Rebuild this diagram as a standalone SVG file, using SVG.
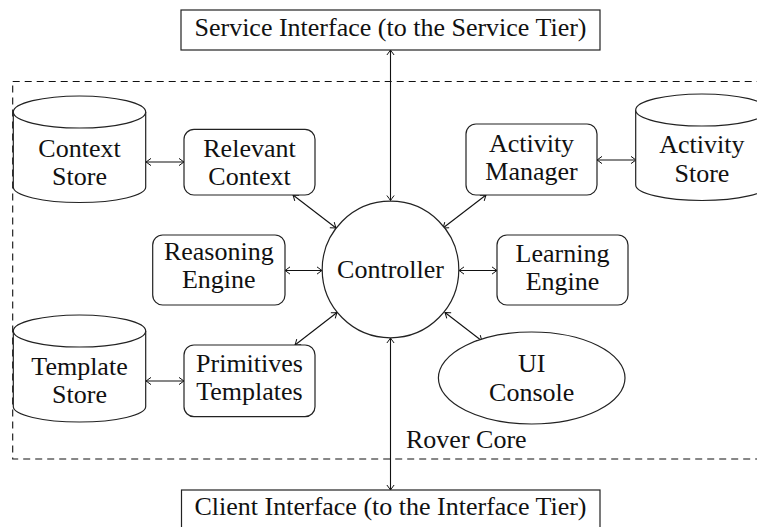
<svg xmlns="http://www.w3.org/2000/svg" width="757" height="527" viewBox="0 0 757 527">
  <style>
    text { font-family: "Liberation Serif", "Times New Roman", serif; font-size: 26px; fill: #111; text-anchor: middle; }
    .shape { fill: #fff; stroke: #222; stroke-width: 1.2; }
    .edge { fill: none; stroke: #111; stroke-width: 1.1; marker-start: url(#tip); marker-end: url(#tip); }
    .frame { fill: none; stroke: #111; stroke-width: 1.1; stroke-dasharray: 7 5; }
  </style>
  <defs>
    <marker id="tip" markerUnits="userSpaceOnUse" orient="auto-start-reverse" markerWidth="12" markerHeight="12" refX="0" refY="0" viewBox="-6 -6 12 12" overflow="visible">
      <path d="M -5 -3.6 Q -1.4 -0.9 0 0 Q -1.4 0.9 -5 3.6" fill="none" stroke="#111" stroke-width="1"/>
    </marker>
  </defs>

  <!-- Rover Core boundary -->
  <g id="rover-core">
    <rect class="frame" x="12.7" y="81.5" width="780" height="377.5"/>
    <text x="406" y="448" style="text-anchor:start">Rover Core</text>
  </g>

  <!-- connectors -->
  <g id="connectors">
    <line class="edge" x1="390.5" y1="50" x2="390.5" y2="200.5"/>
    <line class="edge" x1="390.5" y1="338" x2="390.5" y2="490"/>
    <line class="edge" x1="146" y1="162" x2="184" y2="162"/>
    <line class="edge" x1="293" y1="195" x2="336" y2="228"/>
    <line class="edge" x1="285" y1="270.5" x2="322" y2="270.5"/>
    <line class="edge" x1="486" y1="195" x2="443" y2="228"/>
    <line class="edge" x1="597" y1="160" x2="636" y2="160"/>
    <line class="edge" x1="459" y1="270.5" x2="497" y2="270.5"/>
    <line class="edge" x1="295" y1="345" x2="337" y2="312.5"/>
    <line class="edge" x1="146" y1="381" x2="184" y2="381"/>
    <line class="edge" x1="445" y1="312.5" x2="482" y2="341"/>
  </g>

  <g id="service-interface">
    <rect class="shape" x="181" y="10" width="419" height="40"/>
    <text x="390.5" y="36">Service Interface (to the Service Tier)</text>
  </g>

  <g id="client-interface">
    <rect class="shape" x="181.5" y="490" width="418.5" height="50"/>
    <text x="390.5" y="515">Client Interface (to the Interface Tier)</text>
  </g>

  <g id="controller">
    <circle class="shape" cx="390.5" cy="269.5" r="68.3"/>
    <text x="390.5" y="277.5">Controller</text>
  </g>

  <g id="context-store">
    <path class="shape" d="M 13.3 112 V 187 A 66.2 15.5 0 0 0 145.7 187 V 112"/>
    <ellipse class="shape" cx="79.5" cy="112" rx="66.2" ry="16"/>
    <text x="79.5" y="157">Context</text>
    <text x="79.5" y="185">Store</text>
  </g>

  <g id="relevant-context">
    <rect class="shape" x="184" y="129.3" width="131" height="65.7" rx="10"/>
    <text x="249.5" y="157">Relevant</text>
    <text x="249.5" y="185">Context</text>
  </g>

  <g id="reasoning-engine">
    <rect class="shape" x="152.7" y="235" width="132.3" height="70" rx="10"/>
    <text x="218.8" y="260">Reasoning</text>
    <text x="218.8" y="288">Engine</text>
  </g>

  <g id="activity-manager">
    <rect class="shape" x="466" y="124" width="131" height="71" rx="10"/>
    <text x="531.5" y="151.5">Activity</text>
    <text x="531.5" y="180">Manager</text>
  </g>

  <g id="activity-store">
    <path class="shape" d="M 635.7 110 V 185 A 66.2 15.5 0 0 0 768.1 185 V 110"/>
    <ellipse class="shape" cx="701.9" cy="110" rx="66.2" ry="16"/>
    <text x="701.9" y="153">Activity</text>
    <text x="701.9" y="182">Store</text>
  </g>

  <g id="learning-engine">
    <rect class="shape" x="497" y="235" width="131" height="70" rx="10"/>
    <text x="562.5" y="262">Learning</text>
    <text x="562.5" y="290">Engine</text>
  </g>

  <g id="template-store">
    <path class="shape" d="M 13.3 331 V 406.5 A 66.2 15.5 0 0 0 145.7 406.5 V 331"/>
    <ellipse class="shape" cx="79.5" cy="331" rx="66.2" ry="16"/>
    <text x="79.5" y="375">Template</text>
    <text x="79.5" y="403.3">Store</text>
  </g>

  <g id="primitives-templates">
    <rect class="shape" x="184" y="345" width="131" height="71.7" rx="10"/>
    <text x="249.5" y="371.7">Primitives</text>
    <text x="249.5" y="400">Templates</text>
  </g>

  <g id="ui-console">
    <ellipse class="shape" cx="531.7" cy="378" rx="93.3" ry="46"/>
    <text x="531.7" y="372">UI</text>
    <text x="531.7" y="401">Console</text>
  </g>
</svg>
